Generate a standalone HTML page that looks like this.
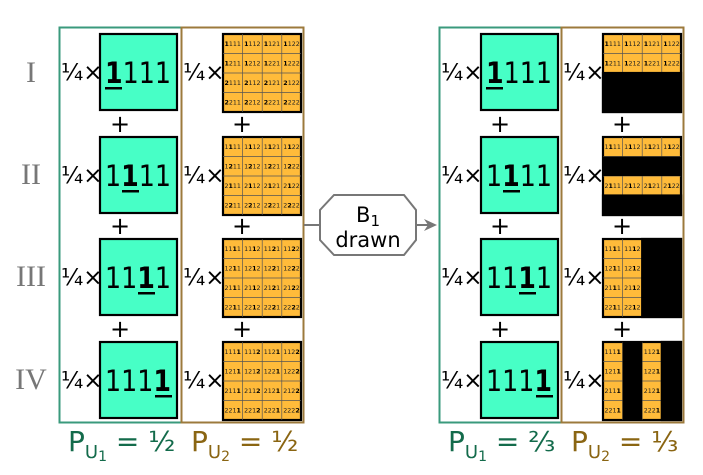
<!DOCTYPE html>
<html><head><meta charset="utf-8"><style>
html,body{margin:0;padding:0;background:#fff}
svg{display:block}
.g{fill:#47ffc6;stroke:#000;stroke-width:2.2}
.o{fill:#ffbb3a;stroke:#000;stroke-width:2.2}
.big{font-family:"DejaVu Sans","Liberation Sans",sans-serif;font-size:29px;fill:#000}
.q{font-family:"DejaVu Sans","Liberation Sans",sans-serif;font-size:23px;fill:#000}
.pl{font-family:"DejaVu Sans","Liberation Sans",sans-serif;font-size:24px;fill:#000}
.rn{font-family:"Liberation Serif","DejaVu Serif",serif;font-size:30px;fill:#777}
.t{font-family:"DejaVu Sans","Liberation Sans",sans-serif;font-size:6.3px;fill:#222}
.t tspan{font-weight:bold;fill:#000}
.lab{font-family:"DejaVu Sans","Liberation Sans",sans-serif;font-size:28px}
.sub{font-size:18px}
</style></head><body>
<svg width="703" height="475" viewBox="0 0 703 475" xmlns="http://www.w3.org/2000/svg">
<defs>
<g id="gl" stroke="#555" stroke-width="0.7">
<line x1="19.6" y1="0" x2="19.6" y2="78"/><line x1="39.2" y1="0" x2="39.2" y2="78"/><line x1="58.8" y1="0" x2="58.8" y2="78"/>
<line x1="0" y1="19.5" x2="78" y2="19.5"/><line x1="0" y1="39" x2="78" y2="39"/><line x1="0" y1="58.5" x2="78" y2="58.5"/>
</g>
</defs>
<rect x="59.5" y="27.5" width="122" height="395" fill="none" stroke="#3a9a7c" stroke-width="2"/>
<rect x="181.5" y="27.5" width="122" height="395" fill="none" stroke="#9c7a3c" stroke-width="2"/>
<rect x="439.5" y="27.5" width="122" height="395" fill="none" stroke="#3a9a7c" stroke-width="2"/>
<rect x="561.5" y="27.5" width="122" height="395" fill="none" stroke="#9c7a3c" stroke-width="2"/>

<text class="rn" x="31" y="82" text-anchor="middle">I</text>
<text class="rn" x="31" y="184" text-anchor="middle">II</text>
<text class="rn" x="31" y="286" text-anchor="middle">III</text>
<text class="rn" x="31" y="389" text-anchor="middle">IV</text>

<g class="q">
<text x="61" y="80">¼×</text><text x="61" y="183">¼×</text><text x="61" y="285">¼×</text><text x="61" y="388">¼×</text>
<text x="183" y="80">¼×</text><text x="183" y="183">¼×</text><text x="183" y="285">¼×</text><text x="183" y="388">¼×</text>
<text x="441" y="80">¼×</text><text x="441" y="183">¼×</text><text x="441" y="285">¼×</text><text x="441" y="388">¼×</text>
<text x="563" y="80">¼×</text><text x="563" y="183">¼×</text><text x="563" y="285">¼×</text><text x="563" y="388">¼×</text>
</g>
<g class="pl" text-anchor="middle">
<text x="120" y="132">+</text><text x="120" y="234">+</text><text x="120" y="337">+</text>
<text x="242" y="132">+</text><text x="242" y="234">+</text><text x="242" y="337">+</text>
<text x="500" y="132">+</text><text x="500" y="234">+</text><text x="500" y="337">+</text>
<text x="622" y="132">+</text><text x="622" y="234">+</text><text x="622" y="337">+</text>
</g>

<rect class="g" x="100" y="34" width="77" height="76"/>
<rect class="g" x="100" y="137" width="77" height="76"/>
<rect class="g" x="100" y="239" width="77" height="76"/>
<rect class="g" x="100" y="342" width="77" height="76"/>
<rect class="g" x="481" y="34" width="77" height="76"/>
<rect class="g" x="481" y="137" width="77" height="76"/>
<rect class="g" x="481" y="239" width="77" height="76"/>
<rect class="g" x="481" y="342" width="77" height="76"/>
<g class="big">
<text x="105" y="83" textLength="66" lengthAdjust="spacingAndGlyphs"><tspan font-weight="bold">1</tspan>111</text>
<text x="105" y="186" textLength="66" lengthAdjust="spacingAndGlyphs">1<tspan font-weight="bold">1</tspan>11</text>
<text x="105" y="288" textLength="66" lengthAdjust="spacingAndGlyphs">11<tspan font-weight="bold">1</tspan>1</text>
<text x="105" y="391" textLength="66" lengthAdjust="spacingAndGlyphs">111<tspan font-weight="bold">1</tspan></text>
<text x="486" y="83" textLength="66" lengthAdjust="spacingAndGlyphs"><tspan font-weight="bold">1</tspan>111</text>
<text x="486" y="186" textLength="66" lengthAdjust="spacingAndGlyphs">1<tspan font-weight="bold">1</tspan>11</text>
<text x="486" y="288" textLength="66" lengthAdjust="spacingAndGlyphs">11<tspan font-weight="bold">1</tspan>1</text>
<text x="486" y="391" textLength="66" lengthAdjust="spacingAndGlyphs">111<tspan font-weight="bold">1</tspan></text>
</g>
<g fill="#000">
<rect x="105" y="87" width="17" height="2.5"/><rect x="122" y="190" width="17" height="2.5"/><rect x="138" y="292" width="17" height="2.5"/><rect x="155" y="395" width="17" height="2.5"/>
<rect x="486" y="87" width="17" height="2.5"/><rect x="503" y="190" width="17" height="2.5"/><rect x="519" y="292" width="17" height="2.5"/><rect x="536" y="395" width="17" height="2.5"/>
</g>

<g transform="translate(223,34)">
<rect class="o" x="0" y="0" width="78" height="78"/><use href="#gl"/>
<text class="t" x="1.5" y="12"><tspan>1</tspan>111</text><text class="t" x="21.1" y="12"><tspan>1</tspan>112</text><text class="t" x="40.7" y="12"><tspan>1</tspan>121</text><text class="t" x="60.3" y="12"><tspan>1</tspan>122</text>
<text class="t" x="1.5" y="31.5"><tspan>1</tspan>211</text><text class="t" x="21.1" y="31.5"><tspan>1</tspan>212</text><text class="t" x="40.7" y="31.5"><tspan>1</tspan>221</text><text class="t" x="60.3" y="31.5"><tspan>1</tspan>222</text>
<text class="t" x="1.5" y="51"><tspan>2</tspan>111</text><text class="t" x="21.1" y="51"><tspan>2</tspan>112</text><text class="t" x="40.7" y="51"><tspan>2</tspan>121</text><text class="t" x="60.3" y="51"><tspan>2</tspan>122</text>
<text class="t" x="1.5" y="70.5"><tspan>2</tspan>211</text><text class="t" x="21.1" y="70.5"><tspan>2</tspan>212</text><text class="t" x="40.7" y="70.5"><tspan>2</tspan>221</text><text class="t" x="60.3" y="70.5"><tspan>2</tspan>222</text>
</g>
<g transform="translate(223,137)">
<rect class="o" x="0" y="0" width="78" height="78"/><use href="#gl"/>
<text class="t" x="1.5" y="12">1<tspan>1</tspan>11</text><text class="t" x="21.1" y="12">1<tspan>1</tspan>12</text><text class="t" x="40.7" y="12">1<tspan>1</tspan>21</text><text class="t" x="60.3" y="12">1<tspan>1</tspan>22</text>
<text class="t" x="1.5" y="31.5">1<tspan>2</tspan>11</text><text class="t" x="21.1" y="31.5">1<tspan>2</tspan>12</text><text class="t" x="40.7" y="31.5">1<tspan>2</tspan>21</text><text class="t" x="60.3" y="31.5">1<tspan>2</tspan>22</text>
<text class="t" x="1.5" y="51">2<tspan>1</tspan>11</text><text class="t" x="21.1" y="51">2<tspan>1</tspan>12</text><text class="t" x="40.7" y="51">2<tspan>1</tspan>21</text><text class="t" x="60.3" y="51">2<tspan>1</tspan>22</text>
<text class="t" x="1.5" y="70.5">2<tspan>2</tspan>11</text><text class="t" x="21.1" y="70.5">2<tspan>2</tspan>12</text><text class="t" x="40.7" y="70.5">2<tspan>2</tspan>21</text><text class="t" x="60.3" y="70.5">2<tspan>2</tspan>22</text>
</g>
<g transform="translate(223,239)">
<rect class="o" x="0" y="0" width="78" height="78"/><use href="#gl"/>
<text class="t" x="1.5" y="12">11<tspan>1</tspan>1</text><text class="t" x="21.1" y="12">11<tspan>1</tspan>2</text><text class="t" x="40.7" y="12">11<tspan>2</tspan>1</text><text class="t" x="60.3" y="12">11<tspan>2</tspan>2</text>
<text class="t" x="1.5" y="31.5">12<tspan>1</tspan>1</text><text class="t" x="21.1" y="31.5">12<tspan>1</tspan>2</text><text class="t" x="40.7" y="31.5">12<tspan>2</tspan>1</text><text class="t" x="60.3" y="31.5">12<tspan>2</tspan>2</text>
<text class="t" x="1.5" y="51">21<tspan>1</tspan>1</text><text class="t" x="21.1" y="51">21<tspan>1</tspan>2</text><text class="t" x="40.7" y="51">21<tspan>2</tspan>1</text><text class="t" x="60.3" y="51">21<tspan>2</tspan>2</text>
<text class="t" x="1.5" y="70.5">22<tspan>1</tspan>1</text><text class="t" x="21.1" y="70.5">22<tspan>1</tspan>2</text><text class="t" x="40.7" y="70.5">22<tspan>2</tspan>1</text><text class="t" x="60.3" y="70.5">22<tspan>2</tspan>2</text>
</g>
<g transform="translate(223,342)">
<rect class="o" x="0" y="0" width="78" height="78"/><use href="#gl"/>
<text class="t" x="1.5" y="12">111<tspan>1</tspan></text><text class="t" x="21.1" y="12">111<tspan>2</tspan></text><text class="t" x="40.7" y="12">112<tspan>1</tspan></text><text class="t" x="60.3" y="12">112<tspan>2</tspan></text>
<text class="t" x="1.5" y="31.5">121<tspan>1</tspan></text><text class="t" x="21.1" y="31.5">121<tspan>2</tspan></text><text class="t" x="40.7" y="31.5">122<tspan>1</tspan></text><text class="t" x="60.3" y="31.5">122<tspan>2</tspan></text>
<text class="t" x="1.5" y="51">211<tspan>1</tspan></text><text class="t" x="21.1" y="51">211<tspan>2</tspan></text><text class="t" x="40.7" y="51">212<tspan>1</tspan></text><text class="t" x="60.3" y="51">212<tspan>2</tspan></text>
<text class="t" x="1.5" y="70.5">221<tspan>1</tspan></text><text class="t" x="21.1" y="70.5">221<tspan>2</tspan></text><text class="t" x="40.7" y="70.5">222<tspan>1</tspan></text><text class="t" x="60.3" y="70.5">222<tspan>2</tspan></text>
</g>

<g transform="translate(603,34)">
<rect class="o" x="0" y="0" width="78" height="78"/><use href="#gl"/>
<text class="t" x="1.5" y="12"><tspan>1</tspan>111</text><text class="t" x="21.1" y="12"><tspan>1</tspan>112</text><text class="t" x="40.7" y="12"><tspan>1</tspan>121</text><text class="t" x="60.3" y="12"><tspan>1</tspan>122</text>
<text class="t" x="1.5" y="31.5"><tspan>1</tspan>211</text><text class="t" x="21.1" y="31.5"><tspan>1</tspan>212</text><text class="t" x="40.7" y="31.5"><tspan>1</tspan>221</text><text class="t" x="60.3" y="31.5"><tspan>1</tspan>222</text>
<rect x="0" y="39" width="78" height="39" fill="#000" stroke="#000" stroke-width="2.2"/>
</g>
<g transform="translate(603,137)">
<rect class="o" x="0" y="0" width="78" height="78"/><use href="#gl"/>
<text class="t" x="1.5" y="12">1<tspan>1</tspan>11</text><text class="t" x="21.1" y="12">1<tspan>1</tspan>12</text><text class="t" x="40.7" y="12">1<tspan>1</tspan>21</text><text class="t" x="60.3" y="12">1<tspan>1</tspan>22</text>
<text class="t" x="1.5" y="51">2<tspan>1</tspan>11</text><text class="t" x="21.1" y="51">2<tspan>1</tspan>12</text><text class="t" x="40.7" y="51">2<tspan>1</tspan>21</text><text class="t" x="60.3" y="51">2<tspan>1</tspan>22</text>
<rect x="0" y="19.5" width="78" height="19.5" fill="#000"/>
<rect x="0" y="58.5" width="78" height="19.5" fill="#000" stroke="#000" stroke-width="2.2"/>
</g>
<g transform="translate(603,239)">
<rect class="o" x="0" y="0" width="78" height="78"/><use href="#gl"/>
<text class="t" x="1.5" y="12">11<tspan>1</tspan>1</text><text class="t" x="21.1" y="12">11<tspan>1</tspan>2</text>
<text class="t" x="1.5" y="31.5">12<tspan>1</tspan>1</text><text class="t" x="21.1" y="31.5">12<tspan>1</tspan>2</text>
<text class="t" x="1.5" y="51">21<tspan>1</tspan>1</text><text class="t" x="21.1" y="51">21<tspan>1</tspan>2</text>
<text class="t" x="1.5" y="70.5">22<tspan>1</tspan>1</text><text class="t" x="21.1" y="70.5">22<tspan>1</tspan>2</text>
<rect x="39.2" y="0" width="38.8" height="78" fill="#000" stroke="#000" stroke-width="2.2"/>
</g>
<g transform="translate(603,342)">
<rect class="o" x="0" y="0" width="78" height="78"/><use href="#gl"/>
<text class="t" x="1.5" y="12">111<tspan>1</tspan></text><text class="t" x="40.7" y="12">112<tspan>1</tspan></text>
<text class="t" x="1.5" y="31.5">121<tspan>1</tspan></text><text class="t" x="40.7" y="31.5">122<tspan>1</tspan></text>
<text class="t" x="1.5" y="51">211<tspan>1</tspan></text><text class="t" x="40.7" y="51">212<tspan>1</tspan></text>
<text class="t" x="1.5" y="70.5">221<tspan>1</tspan></text><text class="t" x="40.7" y="70.5">222<tspan>1</tspan></text>
<rect x="19.6" y="0" width="19.6" height="78" fill="#000"/>
<rect x="58.8" y="0" width="19.2" height="78" fill="#000" stroke="#000" stroke-width="2.2"/>
</g>

<line x1="304" y1="225" x2="320" y2="225" stroke="#777" stroke-width="2"/>
<polygon points="334,195 404,195 416,210 416,240 404,255 334,255 320,240 320,210" fill="#fff" stroke="#777" stroke-width="2"/>
<text x="368" y="222" text-anchor="middle" font-family="DejaVu Sans,Liberation Sans,sans-serif" font-size="21">B<tspan font-size="15" dy="4">1</tspan></text>
<text x="368" y="247" text-anchor="middle" font-family="DejaVu Sans,Liberation Sans,sans-serif" font-size="21">drawn</text>
<line x1="416" y1="225" x2="430" y2="225" stroke="#777" stroke-width="2"/>
<polygon points="437,225 424,219 428,225 424,231" fill="#777"/>

<text class="lab" x="68" y="451" fill="#136b4b">P<tspan class="sub" dy="7">U</tspan><tspan font-size="14" dy="3">1</tspan><tspan dy="-10"> = ½</tspan></text>
<text class="lab" x="191" y="451" fill="#8a6512">P<tspan class="sub" dy="7">U</tspan><tspan font-size="14" dy="3">2</tspan><tspan dy="-10"> = ½</tspan></text>
<text class="lab" x="448" y="451" fill="#136b4b">P<tspan class="sub" dy="7">U</tspan><tspan font-size="14" dy="3">1</tspan><tspan dy="-10"> = ⅔</tspan></text>
<text class="lab" x="571" y="451" fill="#8a6512">P<tspan class="sub" dy="7">U</tspan><tspan font-size="14" dy="3">2</tspan><tspan dy="-10"> = ⅓</tspan></text>
</svg>
</body></html>
